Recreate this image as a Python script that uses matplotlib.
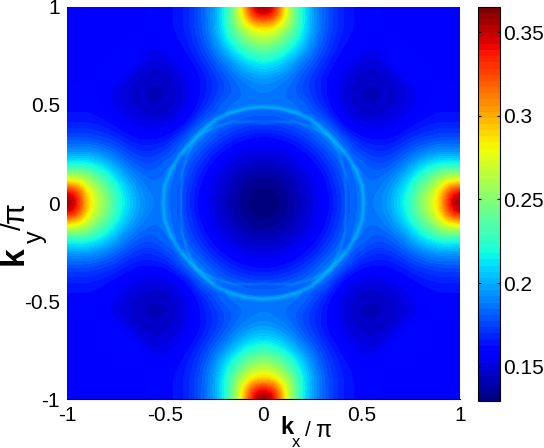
import numpy as np
import matplotlib
matplotlib.use('Agg')
import matplotlib.pyplot as plt

plt.rcParams['font.family'] = ['Liberation Sans', 'DejaVu Sans']

# smooth background of one quadrant, kx and ky from 0 to 1 in steps of 0.05 (values x 1000)
quadrant = [
    [130, 131, 134, 139, 145, 151, 157, 165, 175, 183, 187, 188, 192, 200, 213, 230, 250, 270, 295, 345, 365],
    [131, 132, 135, 140, 146, 152, 158, 166, 175, 183, 187, 187, 190, 198, 210, 226, 246, 265, 290, 335, 350],
    [134, 135, 138, 143, 148, 153, 160, 168, 177, 184, 187, 185, 187, 194, 204, 218, 235, 250, 270, 290, 295],
    [139, 140, 143, 146, 151, 156, 163, 171, 180, 186, 186, 182, 183, 187, 195, 206, 220, 232, 245, 250, 250],
    [145, 146, 148, 151, 155, 161, 168, 175, 183, 186, 184, 178, 177, 180, 186, 195, 205, 212, 217, 218, 215],
    [151, 152, 153, 156, 161, 166, 173, 181, 188, 182, 176, 172, 171, 173, 178, 184, 190, 195, 198, 198, 198],
    [157, 158, 160, 163, 168, 173, 181, 188, 188, 176, 168, 166, 165, 166, 170, 175, 179, 182, 184, 184, 184],
    [165, 166, 168, 171, 175, 181, 188, 190, 175, 165, 160, 159, 159, 160, 163, 167, 170, 172, 174, 174, 174],
    [175, 175, 177, 180, 183, 188, 188, 175, 162, 156, 153, 152, 153, 155, 158, 161, 164, 166, 167, 167, 167],
    [183, 183, 184, 186, 186, 182, 176, 165, 156, 151, 148, 147, 148, 150, 153, 157, 160, 162, 163, 163, 163],
    [187, 187, 187, 186, 184, 176, 168, 160, 153, 148, 145, 144, 145, 147, 150, 154, 158, 160, 161, 161, 161],
    [188, 187, 185, 182, 178, 172, 166, 159, 152, 147, 144, 143, 144, 146, 149, 152, 157, 159, 160, 160, 160],
    [192, 190, 187, 183, 177, 171, 165, 159, 153, 148, 145, 144, 145, 147, 150, 156, 158, 159, 159, 159, 159],
    [200, 198, 194, 187, 180, 173, 166, 160, 155, 150, 147, 146, 147, 150, 156, 161, 160, 159, 158, 158, 158],
    [213, 210, 204, 195, 186, 178, 170, 163, 158, 153, 150, 149, 150, 156, 162, 161, 160, 159, 158, 158, 158],
    [230, 226, 218, 206, 195, 184, 175, 167, 161, 157, 154, 152, 156, 161, 161, 160, 159, 158, 158, 158, 158],
    [250, 246, 235, 220, 205, 190, 179, 170, 164, 160, 158, 157, 158, 160, 160, 159, 158, 158, 158, 158, 158],
    [270, 265, 250, 232, 212, 195, 182, 172, 166, 162, 160, 159, 159, 159, 159, 158, 158, 158, 158, 158, 158],
    [295, 290, 270, 245, 217, 198, 184, 174, 167, 163, 161, 160, 159, 158, 158, 158, 158, 158, 158, 158, 158],
    [345, 335, 290, 250, 218, 198, 184, 174, 167, 163, 161, 160, 159, 158, 158, 158, 158, 158, 158, 158, 158],
    [365, 350, 295, 250, 215, 198, 184, 174, 167, 163, 161, 160, 159, 158, 158, 158, 158, 158, 158, 158, 158],
]
# the two thin rings, radius at each angle of one quadrant
ring_angle = [0, 10, 20, 30, 40, 45, 50, 60, 70, 80, 90]
outer_radius = [0.51, 0.51, 0.50, 0.49, 0.48, 0.48, 0.48, 0.49, 0.49, 0.49, 0.49]
inner_radius = [0.42, 0.425, 0.44, 0.455, 0.47, 0.475, 0.47, 0.455, 0.44, 0.42, 0.41]
axis_ticks = [-1, -0.5, 0, 0.5, 1]
axis_labels = ['-1', '-0.5', '0', '0.5', '1']
cbar_ticks = [0.15, 0.2, 0.25, 0.3, 0.35]
cbar_labels = ['0.15', '0.2', '0.25', '0.3', '0.35']
vmin = 0.1296
vmax = 0.365

W, H = 544, 448


def px_axes(left, top, right, bottom):
    """Axes from pixel edges, y counted from the top of the image"""
    return fig.add_axes([left / W, 1 - bottom / H, (right - left) / W, (bottom - top) / H])


def px_text(x, y, s, **kw):
    fig.text(x / W, 1 - y / H, s, ha='center', va='center', **kw)


def ring_xy(radius):
    """Mirror a quadrant of a ring round the full circle"""
    ang = np.radians(ring_angle)
    r = np.array(radius)
    x = r * np.cos(ang)
    y = r * np.sin(ang)
    xs = np.concatenate([x, -x[::-1][1:], -x[1:], x[::-1][1:]])
    ys = np.concatenate([y, y[::-1][1:], -y[1:], -y[::-1][1:]])
    return xs, ys


# mirror the quadrant into all four
q = np.array(quadrant) / 1000.0
top = np.hstack([q[:, :0:-1], q])
field = np.vstack([top[:0:-1], top])

fig = plt.figure(figsize=(W / 100, H / 100), dpi=100)
cmap = plt.get_cmap('jet', 64)

ax = px_axes(67, 7, 460, 399)
im = ax.imshow(field, origin='lower', extent=[-1.025, 1.025, -1.025, 1.025], cmap=cmap,
               vmin=vmin, vmax=vmax, interpolation='bicubic', aspect='auto')
# soft glow: the same ring a few times, wide and faint first
ring_color = cmap((0.215 - vmin) / (vmax - vmin))
for lw, alpha in [(5, 0.10), (3, 0.15), (1.5, 0.18)]:
    ax.plot(*ring_xy(outer_radius), color=ring_color, linewidth=lw, alpha=alpha, solid_joinstyle='round')
for lw, alpha in [(3, 0.07), (1.3, 0.12)]:
    ax.plot(*ring_xy(inner_radius), color=ring_color, linewidth=lw, alpha=alpha, solid_joinstyle='round')
ax.set_xlim(-1, 1)
ax.set_ylim(-1, 1)
ax.set_xticks(axis_ticks)
ax.set_xticklabels(axis_labels, fontsize=15)
ax.set_yticks(axis_ticks)
ax.set_yticklabels(axis_labels, fontsize=15)
ax.tick_params(length=0, pad=5)
for side in ['top', 'left', 'right']:
    ax.spines[side].set_visible(False)
ax.spines['bottom'].set_linewidth(0.8)

cax = px_axes(478, 7, 500, 401)
cbar = fig.colorbar(im, cax=cax)
cbar.set_ticks(cbar_ticks)
cbar.set_ticklabels(cbar_labels, fontsize=15)
cbar.ax.tick_params(direction='in', length=2, width=0.8, pad=2, left=True, right=True)
cbar.outline.set_linewidth(0.8)

# x label in pieces, the subscript sits well below the k
px_text(287, 427, 'k', fontsize=17, fontweight='bold')
px_text(296, 442, 'x', fontsize=12)
px_text(308, 430, '/', fontsize=15)
px_text(323, 431, 'π', fontsize=17)

# y label the same way, rotated
px_text(14, 256, 'k', fontsize=24, rotation=90, fontweight='bold')
px_text(35, 237, 'y', fontsize=18, rotation=90)
px_text(14, 226, '/', fontsize=20, rotation=90)
px_text(16, 212, 'π', fontsize=22, rotation=90)

fig.savefig('out.png', dpi=100)
plt.close(fig)
